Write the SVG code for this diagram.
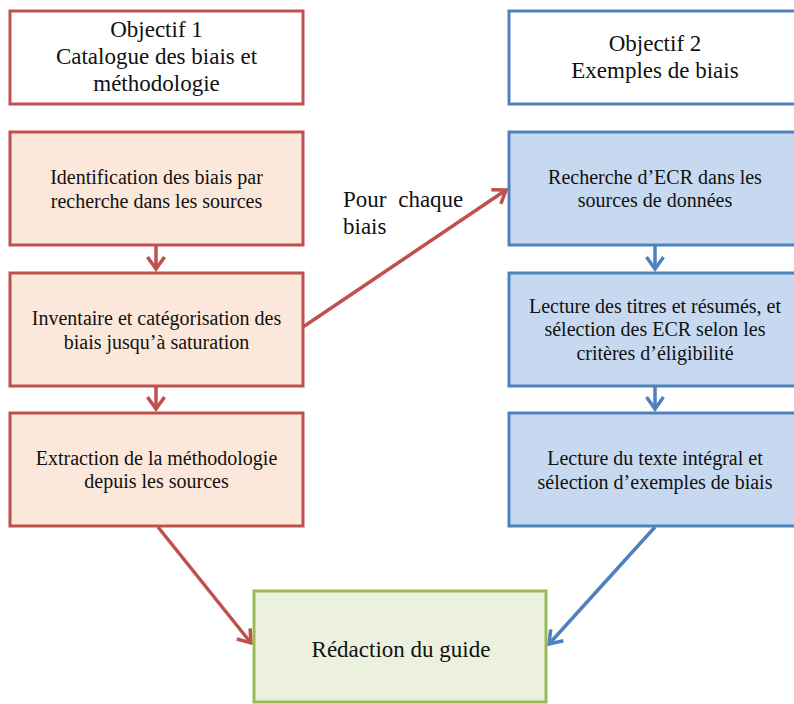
<svg xmlns="http://www.w3.org/2000/svg" width="794" height="704" viewBox="0 0 794 704">
<defs>
<style>
text{font-family:"Liberation Serif","Times New Roman",serif;fill:#111;text-anchor:middle}
.t{font-size:23px}
.s{font-size:20px}
.red{fill:#FCE8DA;stroke:#C0504D;stroke-width:3}
.redw{fill:#FFFFFF;stroke:#C0504D;stroke-width:3}
.blue{fill:#C6D9F0;stroke:#4F81BD;stroke-width:3}
.bluew{fill:#FFFFFF;stroke:#4F81BD;stroke-width:3}
.green{fill:#EBF1DE;stroke:#9BBB59;stroke-width:3}
.ar{fill:none;stroke:#C0504D;stroke-width:3.5}
.ab{fill:none;stroke:#4F81BD;stroke-width:3.5}
</style>
<marker id="mr" markerUnits="userSpaceOnUse" markerWidth="30" markerHeight="30" refX="0" refY="0" orient="auto" overflow="visible">
<path d="M-12,-8.5 L0,0 L-12,8.5" fill="none" stroke="#C0504D" stroke-width="3.5"/>
</marker>
<marker id="mb" markerUnits="userSpaceOnUse" markerWidth="30" markerHeight="30" refX="0" refY="0" orient="auto" overflow="visible">
<path d="M-12,-8.5 L0,0 L-12,8.5" fill="none" stroke="#4F81BD" stroke-width="3.5"/>
</marker>
</defs>
<g id="connectors">
<line class="ar" x1="156" y1="246" x2="156" y2="269" marker-end="url(#mr)"/>
<line class="ar" x1="156" y1="387" x2="156" y2="409" marker-end="url(#mr)"/>
<line class="ar" x1="158" y1="527" x2="251" y2="643" marker-end="url(#mr)"/>
<line class="ar" x1="303" y1="327" x2="506" y2="190" marker-end="url(#mr)"/>
<line class="ab" x1="655" y1="246" x2="655" y2="269" marker-end="url(#mb)"/>
<line class="ab" x1="655" y1="387" x2="655" y2="409" marker-end="url(#mb)"/>
<line class="ab" x1="655" y1="527" x2="549" y2="644" marker-end="url(#mb)"/>
<text class="t" style="text-anchor:start" word-spacing="6"><tspan x="343" y="207">Pour chaque</tspan><tspan x="343" y="234">biais</tspan></text>
</g>
<g id="obj1">
<rect class="redw" x="10" y="11" width="293" height="93"/>
<text class="t"><tspan x="156.5" y="37">Objectif 1</tspan><tspan x="156.5" y="64">Catalogue des biais et</tspan><tspan x="156.5" y="91">méthodologie</tspan></text>
</g>
<g id="obj2">
<rect class="bluew" x="509" y="11" width="292" height="93"/>
<text class="t"><tspan x="655" y="51">Objectif 2</tspan><tspan x="655" y="78">Exemples de biais</tspan></text>
</g>
<g id="identification">
<rect class="red" x="10" y="132" width="293" height="113"/>
<text class="s"><tspan x="156.5" y="184">Identification des biais par</tspan><tspan x="156.5" y="207.5">recherche dans les sources</tspan></text>
</g>
<g id="inventaire">
<rect class="red" x="10" y="273" width="293" height="113"/>
<text class="s"><tspan x="156.5" y="325">Inventaire et catégorisation des</tspan><tspan x="156.5" y="348.5">biais jusqu’à saturation</tspan></text>
</g>
<g id="extraction">
<rect class="red" x="10" y="413" width="293" height="113"/>
<text class="s"><tspan x="156.5" y="464.5">Extraction de la méthodologie</tspan><tspan x="156.5" y="488">depuis les sources</tspan></text>
</g>
<g id="recherche">
<rect class="blue" x="509" y="132" width="292" height="113"/>
<text class="s"><tspan x="655" y="183.5">Recherche d’ECR dans les</tspan><tspan x="655" y="207">sources de données</tspan></text>
</g>
<g id="lecture">
<rect class="blue" x="509" y="273" width="292" height="113"/>
<text class="s"><tspan x="655" y="312.5">Lecture des titres et résumés, et</tspan><tspan x="655" y="336">sélection des ECR selon les</tspan><tspan x="655" y="359.5">critères d’éligibilité</tspan></text>
</g>
<g id="texte">
<rect class="blue" x="509" y="413" width="292" height="113"/>
<text class="s"><tspan x="655" y="465">Lecture du texte intégral et</tspan><tspan x="655" y="488.5">sélection d’exemples de biais</tspan></text>
</g>
<g id="guide">
<rect class="green" x="254" y="591" width="292" height="111"/>
<text class="t"><tspan x="401" y="657">Rédaction du guide</tspan></text>
</g>
</svg>
